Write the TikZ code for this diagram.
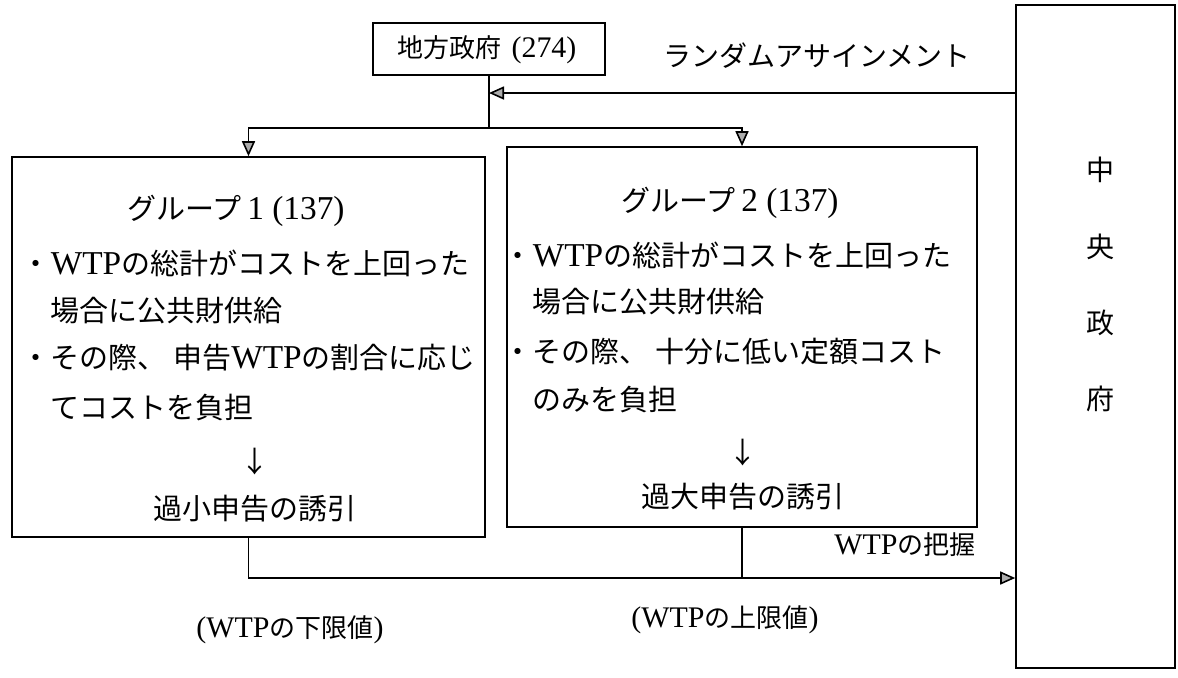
\documentclass[tikz,border=0pt]{standalone}
\usepackage{fontspec}
\setmainfont{Noto Sans CJK JP}
\newfontfamily\latinfont{Liberation Serif}[Scale=1.15]
\newcommand\W[1]{{\latinfont #1}}
\usetikzlibrary{arrows.meta}
\tikzset{
  frame/.style={draw, rectangle, inner sep=0pt},
  tip/.style={-{Triangle[length=7.5pt,width=6.5pt,fill=gray!65]}},
  body/.style={font=\fontsize{14.5}{16}\selectfont, inner sep=0pt},
  ttl/.style={font=\fontsize{14.5}{16}\selectfont, inner sep=0pt},
  lbl/.style={font=\fontsize{13}{15}\selectfont, inner sep=0pt},
}
\begin{document}
\begin{tikzpicture}[x=0.5pt,y=-0.5pt,line width=0.8pt]
\useasboundingbox (0,0) rectangle (1178,677);
% boxes
\node[frame, minimum width=116pt, minimum height=26pt] (local) at (489,49) {};
\node[lbl, font=\fontsize{13}{15}\selectfont] (localtxt) at (487,50) {地方政府\hspace{5pt}\W{(274)}};
\node[frame, minimum width=236.5pt, minimum height=190pt] (g1) at (248.5,347) {};
\node[frame, minimum width=235pt, minimum height=190pt] (g2) at (742,337) {};
\node[frame, minimum width=79.5pt, minimum height=331.5pt] (cg) at (1095.5,336.5) {};
% central government text
\node[lbl, font=\fontsize{14}{16}\selectfont] (c1) at (1100,170) {中};
\node[lbl, font=\fontsize{14}{16}\selectfont] (c2) at (1100,247) {央};
\node[lbl, font=\fontsize{14}{16}\selectfont] (c3) at (1100,323) {政};
\node[lbl, font=\fontsize{14}{16}\selectfont] (c4) at (1100,399) {府};
% group 1
\node[ttl] (t1) at (236,211) {グループ\W{\,1 (137)}};
\node[body, anchor=west] (a1) at (50,263) {\llap{・}\W{WTP}の総計がコストを上回った};
\node[body, anchor=west] (a2) at (50,311) {場合に公共財供給};
\node[body, anchor=west] (a3) at (50,358) {\llap{・}その際、 申告\W{WTP}の割合に応じ};
\node[body, anchor=west] (a4) at (50,408) {てコストを負担};
\node[body] (a5) at (255,462) {↓};
\node[body] (a6) at (255,509) {過小申告の誘引};
% group 2
\node[ttl] (t2) at (730,203) {グループ\W{\,2 (137)}};
\node[body, anchor=west] (b1) at (532,255) {\llap{・}\W{WTP}の総計がコストを上回った};
\node[body, anchor=west] (b2) at (532,302) {場合に公共財供給};
\node[body, anchor=west] (b3) at (532,352) {\llap{・}その際、 十分に低い定額コスト};
\node[body, anchor=west] (b4) at (532,400) {のみを負担};
\node[body] (b5) at (743,453) {↓};
\node[body] (b6) at (743,497) {過大申告の誘引};
% connectors
\coordinate (split) at (489,128);
\coordinate (ra) at (489,93);
\coordinate (bot) at (0,578);
\draw (local.south) -- (split);
\draw[tip] (split) -| (g1.north);
\draw[tip] (split) -| (g2.north);
\draw[tip] (cg.west |- ra) -- (ra);
\draw[tip] (g1.south) |- (cg.west |- bot);
\draw (g2.south) -- (g2.south |- bot);
% labels
\node[lbl, font=\fontsize{14}{16}\selectfont] (ratxt) at (817,56) {ランダムアサインメント};
\node[lbl] (wtp) at (905,545) {\W{WTP}の把握};
\node[lbl] (low) at (290,630) {\W{(WTP}の下限値\W{)}};
\node[lbl] (up) at (725,620) {\W{(WTP}の上限値\W{)}};
\end{tikzpicture}
\end{document}
